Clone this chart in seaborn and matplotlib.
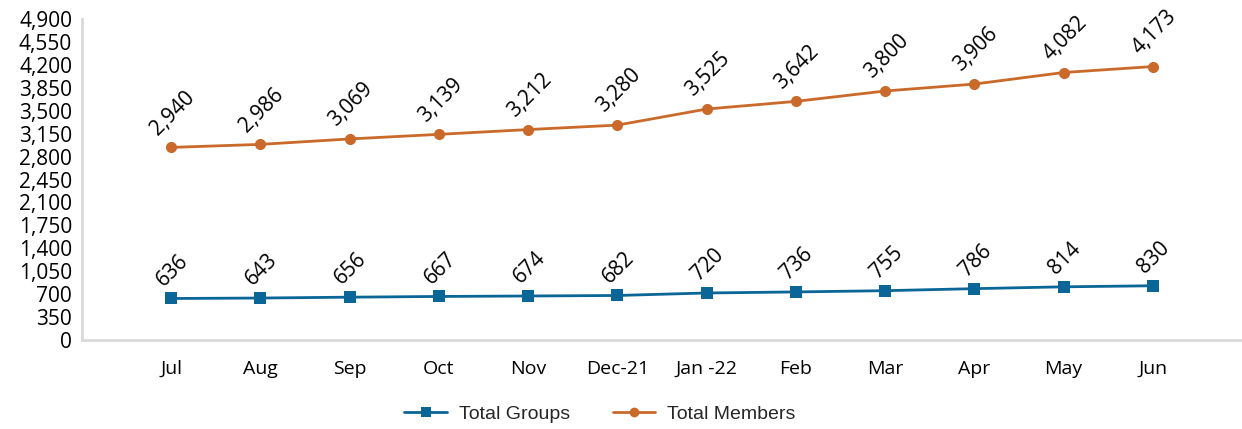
import matplotlib
matplotlib.use("Agg")
import pandas as pd
import matplotlib.pyplot as plt
import seaborn as sns
from matplotlib.ticker import FuncFormatter

months = ["Jul", "Aug", "Sep", "Oct", "Nov", "Dec-21", "Jan -22", "Feb", "Mar", "Apr", "May", "Jun"]
total_groups = [636, 643, 656, 667, 674, 682, 720, 736, 755, 786, 814, 830]
total_members = [2940, 2986, 3069, 3139, 3212, 3280, 3525, 3642, 3800, 3906, 4082, 4173]

df = pd.DataFrame({
    "Month": months * 2,
    "Value": total_groups + total_members,
    "Series": ["Total Groups"] * len(months) + ["Total Members"] * len(months),
})
df["x"] = list(range(len(months))) * 2

sns.set_style("white")
plt.rcParams["font.family"] = ["Open Sans", "DejaVu Sans"]

colors = {"Total Groups": "#0a6696", "Total Members": "#c96a2b"}
markers = {"Total Groups": "s", "Total Members": "o"}

fig = plt.figure(figsize=(12.42, 4.29), dpi=100)
ax = fig.add_axes([0.066, 0.207, 0.934, 0.749])

sns.lineplot(data=df, x="x", y="Value", hue="Series", style="Series",
             palette=colors, markers=markers, dashes=False, markersize=8,
             markeredgewidth=0, linewidth=2, ax=ax, legend=False)

for _, row in df.iterrows():
    ax.annotate(f"{row['Value']:,}", (row["x"], row["Value"]),
                xytext=(1, 6), textcoords="offset points",
                rotation=45, ha="center", va="bottom",
                fontsize=15, color="black")

ax.set_xlim(-1, 12)
ax.set_ylim(0, 4900)
ax.set_yticks(range(0, 4901, 350))
ax.yaxis.set_major_formatter(FuncFormatter(lambda v, p: f"{int(v):,}"))
ax.set_xticks(list(range(-1, len(months))))
ax.set_xticklabels([""] + months)
ax.tick_params(axis="both", labelsize=14, colors="#bfbfbf", labelcolor="black",
               length=5, width=1.2)
ax.tick_params(axis="y", labelsize=15, pad=2)
ax.tick_params(axis="x", pad=9)
ax.set_xlabel("")
ax.set_ylabel("")
for s in ["top", "right"]:
    ax.spines[s].set_visible(False)
for s in ["left", "bottom"]:
    ax.spines[s].set_color("#d9d9d9")
    ax.spines[s].set_linewidth(2)

handles = [plt.Line2D([], [], color=colors[k], marker=markers[k], markersize=7,
                      markeredgewidth=0, linewidth=2) for k in colors]
fig.legend(handles, list(colors), loc="center", bbox_to_anchor=(0.483, 0.035),
           ncol=2, frameon=False, handlelength=2.2, handletextpad=0.6,
           columnspacing=2.2, prop={"family": "Liberation Sans", "size": 14})

fig.savefig("out.png", dpi=100)
